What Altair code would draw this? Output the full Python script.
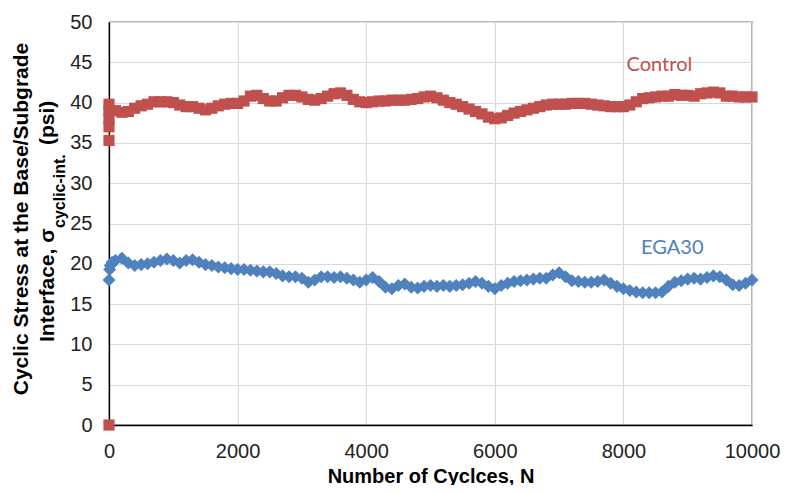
import altair as alt
import pandas as pd

# ---- data ----
control_n = [0, 0, 0, 0, 0, 0, 100, 200, 300, 400, 500, 600, 700, 800, 900,
             1000, 1100, 1200, 1300, 1400, 1500, 1600, 1700, 1800, 1900,
             2000, 2100, 2200, 2300, 2400, 2500, 2600, 2700, 2800, 2900,
             3000, 3100, 3200, 3300, 3400, 3500, 3600, 3700, 3800, 3900,
             4000, 4100, 4200, 4300, 4400, 4500, 4600, 4700, 4800, 4900,
             5000, 5100, 5200, 5300, 5400, 5500, 5600, 5700, 5800, 5900,
             6000, 6100, 6200, 6300, 6400, 6500, 6600, 6700, 6800, 6900,
             7000, 7100, 7200, 7300, 7400, 7500, 7600, 7700, 7800, 7900,
             8000, 8100, 8200, 8300, 8400, 8500, 8600, 8700, 8800, 8900,
             9000, 9100, 9200, 9300, 9400, 9500, 9600, 9700, 9800, 9900, 10000]
control_v = [0.0, 35.3, 37.0, 38.0, 39.0, 39.8, 39.0, 38.8, 38.9, 39.3, 39.6, 39.8, 40.1, 40.1, 40.1,
             40.0, 39.7, 39.5, 39.5, 39.3, 39.1, 39.3, 39.6, 39.8, 39.9,
             39.9, 40.2, 40.8, 40.9, 40.5, 40.2, 40.2, 40.6, 40.9, 40.9,
             40.7, 40.4, 40.3, 40.5, 40.8, 41.1, 41.2, 40.9, 40.4, 40.1,
             40.0, 40.1, 40.2, 40.2, 40.3, 40.3, 40.3, 40.4, 40.5, 40.7,
             40.8, 40.6, 40.3, 40.0, 39.8, 39.5, 39.2, 38.9, 38.6, 38.2,
             38.0, 38.1, 38.4, 38.7, 38.9, 39.1, 39.3, 39.5, 39.7, 39.8,
             39.8, 39.8, 39.9, 39.9, 39.9, 39.8, 39.7, 39.6, 39.5, 39.5,
             39.5, 39.7, 40.1, 40.5, 40.6, 40.7, 40.8, 40.8, 41.0, 40.9,
             40.9, 40.8, 41.1, 41.2, 41.3, 41.2, 40.8, 40.8, 40.7, 40.7, 40.7]

ega_n = [0, 10, 20, 50, 100, 200, 300, 400, 500, 600, 700, 800, 900,
         1000, 1100, 1200, 1300, 1400, 1500, 1600, 1700, 1800, 1900,
         2000, 2100, 2200, 2300, 2400, 2500, 2600, 2700, 2800, 2900,
         3000, 3100, 3200, 3300, 3400, 3500, 3600, 3700, 3800, 3900,
         4000, 4100, 4200, 4300, 4400, 4500, 4600, 4700, 4800, 4900,
         5000, 5100, 5200, 5300, 5400, 5500, 5600, 5700, 5800, 5900,
         6000, 6100, 6200, 6300, 6400, 6500, 6600, 6700, 6800, 6900,
         7000, 7100, 7200, 7300, 7400, 7500, 7600, 7700, 7800, 7900,
         8000, 8100, 8200, 8300, 8400, 8500, 8600, 8700, 8800, 8900,
         9000, 9100, 9200, 9300, 9400, 9500, 9600, 9700, 9800, 9900, 10000]
ega_v = [18.0, 19.3, 19.8, 20.2, 20.4, 20.7, 20.1, 19.8, 19.9, 20.0, 20.2, 20.4, 20.6,
         20.4, 20.1, 20.4, 20.5, 20.2, 19.9, 19.8, 19.6, 19.5, 19.4,
         19.3, 19.3, 19.2, 19.1, 19.0, 19.0, 18.8, 18.5, 18.4, 18.4,
         18.2, 17.7, 18.0, 18.4, 18.4, 18.3, 18.4, 18.2, 18.0, 17.7,
         18.0, 18.3, 17.8, 17.1, 16.9, 17.3, 17.5, 17.1, 17.0, 17.2,
         17.3, 17.2, 17.3, 17.2, 17.3, 17.4, 17.6, 17.8, 17.6, 17.2,
         16.9, 17.3, 17.6, 17.8, 17.9, 18.0, 18.1, 18.2, 18.2, 18.6,
         18.9, 18.4, 17.9, 17.8, 17.7, 17.7, 17.8, 18.0, 17.6, 17.2,
         16.9, 16.7, 16.5, 16.4, 16.4, 16.4, 16.5, 17.2, 17.7, 17.9,
         18.1, 18.2, 18.1, 18.3, 18.5, 18.4, 18.0, 17.4, 17.3, 17.6, 18.0]

label_text = ["Control", "EGA30"]
label_n = [8560, 8760]
label_v = [44.7, 22.0]
label_col = ["#C0504D", "#4F81BD"]

RED = "#C0504D"
BLUE = "#4F81BD"

df_c = pd.DataFrame({"N": control_n, "S": control_v})
df_e = pd.DataFrame({"N": ega_n, "S": ega_v})
df_l = pd.DataFrame({"N": label_n, "S": label_v, "t": label_text, "c": label_col})

xs = alt.Scale(domain=[0, 10000], nice=False)
ys = alt.Scale(domain=[0, 50], nice=False)

xax = alt.Axis(values=[0, 2000, 4000, 6000, 8000, 10000], format="d",
               title="Number of Cyclces, N", grid=True, ticks=False, tickSize=0,
               labelFlush=False, labelPadding=16, titlePadding=5, titleFontSize=20)
yax = alt.Axis(values=list(range(0, 51, 5)), title=None, grid=True, ticks=False,
               tickSize=0, labelPadding=17)

base_c = alt.Chart(df_c).mark_point(shape="square", filled=True, opacity=1,
                                     color=RED, size=125).encode(
    x=alt.X("N:Q", scale=xs, axis=xax),
    y=alt.Y("S:Q", scale=ys, axis=yax),
)
base_e = alt.Chart(df_e).mark_point(shape="diamond", filled=True, opacity=1,
                                     color=BLUE, size=170).encode(
    x=alt.X("N:Q", scale=xs),
    y=alt.Y("S:Q", scale=ys),
)
labels = alt.Chart(df_l).mark_text(font="Lato", fontSize=20, align="center",
                                    baseline="middle").encode(
    x=alt.X("N:Q", scale=xs),
    y=alt.Y("S:Q", scale=ys),
    text="t:N",
    color=alt.Color("c:N", scale=None),
)

tf = "Liberation Sans, Arial, sans-serif"
t1 = alt.Chart(pd.DataFrame({"t": ["Cyclic Stress at the Base/Subgrade"]})).mark_text(
    font=tf, fontSize=21, fontWeight="bold", angle=270, align="center",
    baseline="middle", color="#000").encode(
    text="t:N", x=alt.value(-87), y=alt.value(197))
t2 = alt.Chart(pd.DataFrame({"t": ["Interface, σ"]})).mark_text(
    font=tf, fontSize=21, fontWeight="bold", angle=270, align="left",
    baseline="middle", color="#000").encode(
    text="t:N", x=alt.value(-61), y=alt.value(320))
t3 = alt.Chart(pd.DataFrame({"t": ["cyclic-int."]})).mark_text(
    font=tf, fontSize=16, fontWeight="bold", angle=270, align="left",
    baseline="middle", color="#000").encode(
    text="t:N", x=alt.value(-49), y=alt.value(206))
t4 = alt.Chart(pd.DataFrame({"t": ["(psi)"]})).mark_text(
    font=tf, fontSize=21, fontWeight="bold", angle=270, align="left",
    baseline="middle", color="#000").encode(
    text="t:N", x=alt.value(-61), y=alt.value(123))

chart = alt.layer(base_c, base_e, labels, t1, t2, t3, t4).properties(
    width=643, height=403,
    autosize=alt.AutoSizeParams(type="none"),
    padding={"left": 101, "top": 14, "right": 34, "bottom": 60},
    background="white",
).configure_view(stroke="#000", strokeWidth=1.2).configure_axis(
    labelFont="Liberation Sans", labelFontSize=20, labelColor="#222",
    titleFont="Liberation Sans", titleFontSize=21, titleFontWeight="bold",
    titleColor="#000", gridColor="#d9d9d9", gridWidth=1.2,
    domainColor="#000", domainWidth=1.3,
)

chart.save("out.html", embed_options={"renderer": "svg", "actions": False})
